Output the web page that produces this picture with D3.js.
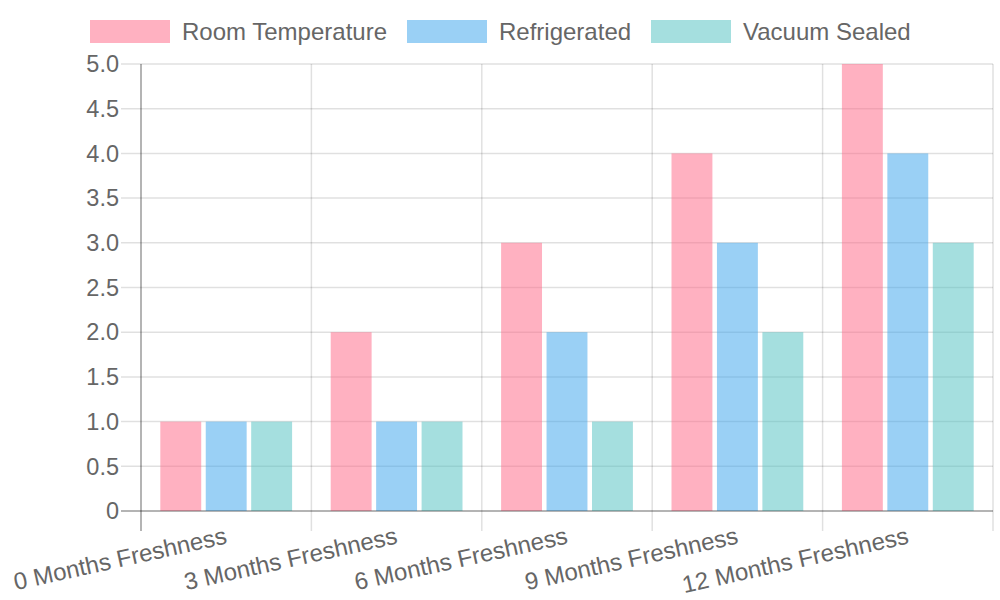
<!DOCTYPE html>
<html>
<head>
<meta charset="utf-8">
<script src="https://cdn.jsdelivr.net/npm/d3@7"></script>
<style>
  body { margin: 0; background: #fff; }
  text { font-family: "Liberation Sans", Arial, sans-serif; fill: #666; }
</style>
</head>
<body>
<svg width="1000" height="600"></svg>
<script>
// data
var categories = ["0 Months Freshness", "3 Months Freshness", "6 Months Freshness", "9 Months Freshness", "12 Months Freshness"];
var seriesNames = ["Room Temperature", "Refrigerated", "Vacuum Sealed"];
var roomTemp = [1, 2, 3, 4, 5];
var refrigerated = [1, 1, 2, 3, 4];
var vacuumSealed = [1, 1, 1, 2, 3];
var yTicks = [0, 0.5, 1, 1.5, 2, 2.5, 3, 3.5, 4, 4.5, 5];
var yTickLabels = ["0", "0.5", "1.0", "1.5", "2.0", "2.5", "3.0", "3.5", "4.0", "4.5", "5.0"];

var colors = ["rgba(255,99,132,0.5)", "rgba(54,162,235,0.5)", "rgba(75,192,192,0.5)"];
var series = [roomTemp, refrigerated, vacuumSealed];

var margin = { left: 141, right: 7, top: 64, bottom: 89 };
var width = 1000, height = 600;
var gridColor = "rgba(0,0,0,0.12)";
var axisColor = "rgba(0,0,0,0.3)";

var svg = d3.select("svg");

var xScale = d3.scaleBand()
  .domain(categories)
  .range([margin.left, width - margin.right]);

var inner = d3.scaleBand()
  .domain(d3.range(series.length))
  .range([0, xScale.bandwidth() * 0.8])
  .paddingInner(0.1)
  .paddingOuter(0.05);

var yScale = d3.scaleLinear()
  .domain([0, 5])
  .range([height - margin.bottom, margin.top]);

// grid
var grid = svg.append("g");
grid.selectAll("line.h").data(yTicks).enter().append("line")
  .attr("x1", margin.left - 20).attr("x2", width - margin.right)
  .attr("y1", function(d){ return yScale(d); })
  .attr("y2", function(d){ return yScale(d); })
  .attr("stroke", gridColor).attr("stroke-width", 1.5);

var bounds = categories.map(function(c){ return xScale(c); }).concat([width - margin.right]);
grid.selectAll("line.v").data(bounds).enter().append("line")
  .attr("x1", function(d){ return d; }).attr("x2", function(d){ return d; })
  .attr("y1", margin.top).attr("y2", height - margin.bottom + 20)
  .attr("stroke", gridColor).attr("stroke-width", 1.5);

// bars
var plot = svg.append("g");
series.forEach(function(vals, si){
  plot.selectAll("rect.s" + si).data(vals).enter().append("rect")
    .attr("x", function(d, i){ return xScale(categories[i]) + xScale.bandwidth() * 0.1 + inner(si); })
    .attr("width", inner.bandwidth())
    .attr("y", function(d){ return yScale(d); })
    .attr("height", function(d){ return yScale(0) - yScale(d); })
    .attr("fill", colors[si]);
});

// axis lines
svg.append("line")
  .attr("x1", margin.left).attr("x2", margin.left)
  .attr("y1", margin.top).attr("y2", height - margin.bottom + 20)
  .attr("stroke", axisColor).attr("stroke-width", 1.5);
svg.append("line")
  .attr("x1", margin.left - 20).attr("x2", width - margin.right)
  .attr("y1", yScale(0)).attr("y2", yScale(0))
  .attr("stroke", axisColor).attr("stroke-width", 1.5);

// y labels
svg.append("g").selectAll("text").data(yTicks).enter().append("text")
  .attr("x", margin.left - 22)
  .attr("y", function(d){ return yScale(d); })
  .attr("dy", "0.35em")
  .attr("text-anchor", "end")
  .attr("font-size", 23.5)
  .text(function(d, i){ return yTickLabels[i]; });

// x labels
svg.append("g").selectAll("text").data(categories).enter().append("text")
  .attr("transform", function(d){
    return "translate(" + (xScale(d) + xScale.bandwidth() / 2) + "," + (height - margin.bottom + 24) + ") rotate(-12.5)";
  })
  .attr("text-anchor", "end")
  .attr("dy", "0.35em")
  .attr("font-size", 24)
  .text(function(d){ return d; });

// legend
var legendX = [90, 407, 651];
var legend = svg.append("g");
seriesNames.forEach(function(name, i){
  legend.append("rect")
    .attr("x", legendX[i]).attr("y", 20)
    .attr("width", 80).attr("height", 23)
    .attr("fill", colors[i]);
  legend.append("text")
    .attr("x", legendX[i] + 92).attr("y", 32)
    .attr("dy", "0.35em")
    .attr("font-size", 24)
    .text(name);
});
</script>
</body>
</html>
